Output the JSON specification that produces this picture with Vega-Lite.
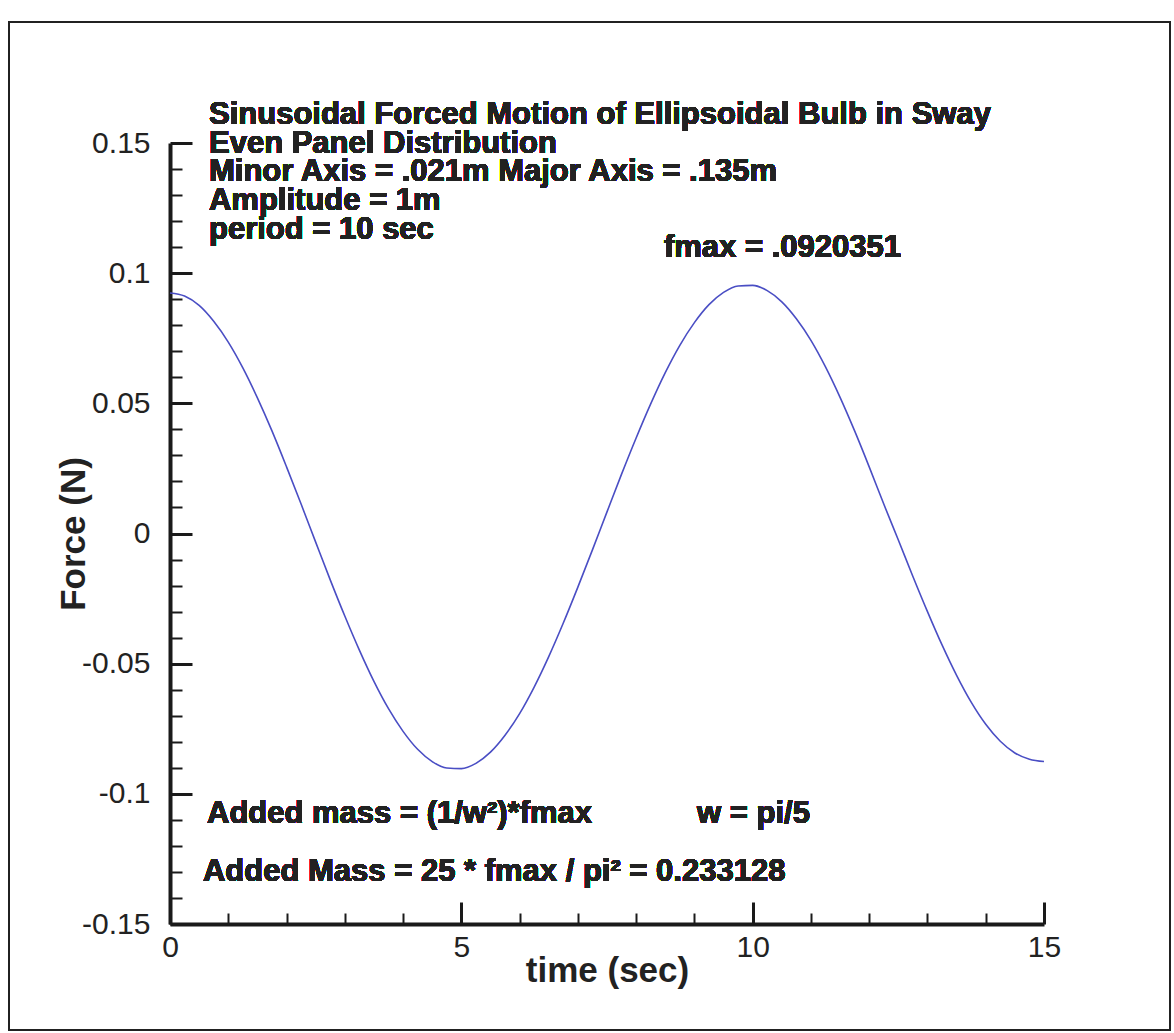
{
  "$schema": "https://vega.github.io/schema/vega-lite/v6.json",
  "width": 874,
  "height": 781,
  "autosize": {"type": "none"},
  "padding": {"left": 170, "top": 143, "right": 130, "bottom": 109},
  "background": "white",
  "config": {
    "view": {"stroke": null},
    "font": "Liberation Sans",
    "axis": {"labelFont": "Liberation Sans", "titleFont": "Liberation Sans", "grid": false}
  },
  "data": {
    "values": [
      {"t": 0, "f": 0.0924}, {"t": 0.25, "f": 0.0912}, {"t": 0.5, "f": 0.0876}, {"t": 0.75, "f": 0.0815},
      {"t": 1.0, "f": 0.0735}, {"t": 1.25, "f": 0.0636}, {"t": 1.5, "f": 0.0521}, {"t": 1.75, "f": 0.0394},
      {"t": 2.0, "f": 0.0256}, {"t": 2.25, "f": 0.0113}, {"t": 2.5, "f": -0.0033}, {"t": 2.75, "f": -0.0178},
      {"t": 3.0, "f": -0.0317}, {"t": 3.25, "f": -0.0448}, {"t": 3.5, "f": -0.0568}, {"t": 3.75, "f": -0.0673},
      {"t": 4.0, "f": -0.076}, {"t": 4.25, "f": -0.0829}, {"t": 4.5, "f": -0.0876}, {"t": 4.75, "f": -0.0901},
      {"t": 5.0, "f": -0.0903}, {"t": 5.25, "f": -0.0883}, {"t": 5.5, "f": -0.084}, {"t": 5.75, "f": -0.0775},
      {"t": 6.0, "f": -0.0692}, {"t": 6.25, "f": -0.059}, {"t": 6.5, "f": -0.0473}, {"t": 6.75, "f": -0.0344},
      {"t": 7.0, "f": -0.0206}, {"t": 7.25, "f": -0.0063}, {"t": 7.5, "f": 0.0083}, {"t": 7.75, "f": 0.0228},
      {"t": 8.0, "f": 0.0367}, {"t": 8.25, "f": 0.0498}, {"t": 8.5, "f": 0.0618}, {"t": 8.75, "f": 0.0723},
      {"t": 9.0, "f": 0.081}, {"t": 9.25, "f": 0.0879}, {"t": 9.5, "f": 0.0926}, {"t": 9.75, "f": 0.0951},
      {"t": 10.0, "f": 0.0953}, {"t": 10.25, "f": 0.0933}, {"t": 10.5, "f": 0.089}, {"t": 10.75, "f": 0.0825},
      {"t": 11.0, "f": 0.0742}, {"t": 11.25, "f": 0.064}, {"t": 11.5, "f": 0.0523}, {"t": 11.75, "f": 0.0394},
      {"t": 12.0, "f": 0.0256}, {"t": 12.25, "f": 0.0113}, {"t": 12.5, "f": -0.0025}, {"t": 12.75, "f": -0.0165},
      {"t": 13.0, "f": -0.03}, {"t": 13.25, "f": -0.0428}, {"t": 13.5, "f": -0.0545}, {"t": 13.75, "f": -0.0648},
      {"t": 14.0, "f": -0.0733}, {"t": 14.25, "f": -0.0798}, {"t": 14.5, "f": -0.0843}, {"t": 14.75, "f": -0.0867},
      {"t": 15.0, "f": -0.0876}
    ]
  },
  "layer": [
    {
      "mark": {"type": "line", "color": "#4a4ec4", "strokeWidth": 1.6, "interpolate": "monotone"},
      "encoding": {
        "x": {
          "field": "t", "type": "quantitative",
          "scale": {"domain": [0, 15], "nice": false, "zero": false},
          "axis": {
            "orient": "bottom", "values": [0, 5, 10, 15], "title": "time (sec)",
            "domainColor": "#1a1a1a", "domainWidth": 4, "tickColor": "#1a1a1a", "tickWidth": 3, "tickSize": -22,
            "labelFontSize": 30, "labelColor": "#222", "labelPadding": 30, "labelFlush": false,
            "titleFontSize": 35, "titleFontWeight": "bold", "titleColor": "#222", "titlePadding": -9
          }
        },
        "y": {
          "field": "f", "type": "quantitative",
          "scale": {"domain": [-0.15, 0.15], "nice": false, "zero": false},
          "axis": {
            "orient": "left", "values": [-0.15, -0.1, -0.05, 0, 0.05, 0.1, 0.15], "title": "Force (N)",
            "labelExpr": "toString(datum.value)",
            "domainColor": "#1a1a1a", "domainWidth": 4, "tickColor": "#1a1a1a", "tickWidth": 3, "tickSize": -22,
            "labelFontSize": 30, "labelColor": "#222", "labelPadding": 42, "labelFlush": false,
            "titleFontSize": 35, "titleFontWeight": "bold", "titleColor": "#222", "titlePadding": -10
          }
        }
      }
    },
    {
      "mark": {"type": "line", "opacity": 0},
      "encoding": {
        "x": {
          "field": "t", "type": "quantitative",
          "axis": {
            "orient": "bottom", "values": [1, 2, 3, 4, 6, 7, 8, 9, 11, 12, 13, 14],
            "domain": false, "labels": false, "title": null,
            "tickColor": "#1a1a1a", "tickWidth": 2, "tickSize": -11
          }
        },
        "y": {
          "field": "f", "type": "quantitative",
          "axis": {
            "orient": "left",
            "values": [-0.14, -0.13, -0.12, -0.11, -0.09, -0.08, -0.07, -0.06, -0.04, -0.03, -0.02, -0.01, 0.01, 0.02, 0.03, 0.04, 0.06, 0.07, 0.08, 0.09, 0.11, 0.12, 0.13, 0.14],
            "domain": false, "labels": false, "title": null,
            "tickColor": "#1a1a1a", "tickWidth": 2, "tickSize": -12
          }
        }
      }
    },
    {
      "mark": {"type": "rect", "fill": null, "fillOpacity": 0, "stroke": "#222", "strokeWidth": 1.5},
      "encoding": {
        "x": {"datum": -2.763, "type": "quantitative", "axis": null},
        "x2": {"datum": 17.162},
        "y": {"datum": 0.1965, "type": "quantitative", "axis": null},
        "y2": {"datum": -0.1907}
      }
    },
    {
      "mark": {"type": "text", "align": "left", "baseline": "alphabetic", "fontSize": 31, "fontWeight": "bold", "color": "#222", "lineHeight": 28.7,
        "text": ["Sinusoidal Forced Motion of Ellipsoidal Bulb in Sway", "Even Panel Distribution", "Minor Axis = .021m  Major Axis = .135m", "Amplitude = 1m", "period = 10 sec"]},
      "encoding": {
        "x": {"datum": 0.669, "type": "quantitative", "axis": null},
        "y": {"datum": 0.1573, "type": "quantitative", "axis": null}
      }
    },
    {
      "mark": {"type": "text", "align": "left", "baseline": "alphabetic", "fontSize": 31, "fontWeight": "bold", "color": "#222", "text": "fmax = .0920351"},
      "encoding": {
        "x": {"datum": 8.478, "type": "quantitative", "axis": null},
        "y": {"datum": 0.1062, "type": "quantitative", "axis": null}
      }
    },
    {
      "mark": {"type": "text", "align": "left", "baseline": "alphabetic", "fontSize": 31, "fontWeight": "bold", "color": "#222", "text": "Added mass = (1/w²)*fmax"},
      "encoding": {
        "x": {"datum": 0.635, "type": "quantitative", "axis": null},
        "y": {"datum": -0.1112, "type": "quantitative", "axis": null}
      }
    },
    {
      "mark": {"type": "text", "align": "left", "baseline": "alphabetic", "fontSize": 31, "fontWeight": "bold", "color": "#222", "text": "w = pi/5"},
      "encoding": {
        "x": {"datum": 9.045, "type": "quantitative", "axis": null},
        "y": {"datum": -0.1112, "type": "quantitative", "axis": null}
      }
    },
    {
      "mark": {"type": "text", "align": "left", "baseline": "alphabetic", "fontSize": 31, "fontWeight": "bold", "color": "#222", "text": "Added Mass = 25 * fmax / pi² = 0.233128"},
      "encoding": {
        "x": {"datum": 0.566, "type": "quantitative", "axis": null},
        "y": {"datum": -0.1335, "type": "quantitative", "axis": null}
      }
    }
  ],
  "resolve": {"axis": {"x": "independent", "y": "independent"}}
}
